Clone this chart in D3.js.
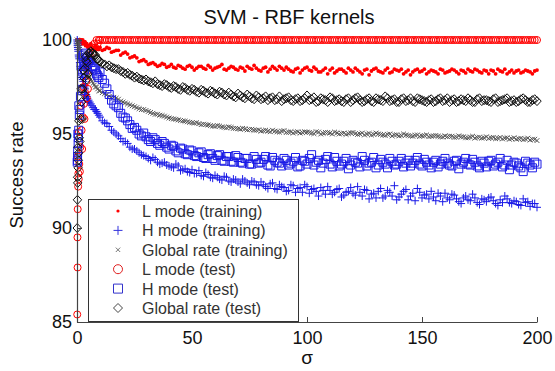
<!DOCTYPE html>
<html><head><meta charset="utf-8">
<script src="https://cdn.jsdelivr.net/npm/d3@7"></script>
<style>body{margin:0;background:#fff}svg{display:block;font-family:"Liberation Sans",Arial,sans-serif}</style>
</head><body><svg id="c" width="555" height="371"></svg>
<script>
// sampling set A
const sigma = [0.1,0.25,0.5,0.75,1,1.5,2,2.5,3,3.5,4,5,6,7,8,9,
10,12,14,16,18,20,22,24,26,28,30,32,34,36,38,40,42,44,46,48,50,52,54,56,58,60,62,64,66,68,70,72,74,76,78,80,82,84,86,88,90,92,94,96,98,
100,102,104,106,108,110,112,114,116,118,120,122,124,126,128,130,132,134,136,138,140,142,144,146,148,150,152,154,156,158,160,162,164,166,168,170,172,174,176,178,180,182,184,186,188,190,192,194,196,198,200];
// sampling set B
const sigmaB = [0.2,0.3,0.4,0.6,0.8,1.25,1.75,2.25,2.75,3.25,3.75,4.25,4.5,4.75,5.5,6.5,7.5,8.5,9.5,
11,13,15,17,19,21,23,25,27,29,31,33,35,37,39,41,43,45,47,49,51,53,55,57,59,61,63,65,67,69,71,73,75,77,79,81,83,85,87,89,91,93,95,97,99,
101,103,105,107,109,111,113,115,117,119,121,123,125,127,129,131,133,135,137,139,141,143,145,147,149,151,153,155,157,159,161,163,165,167,169,171,173,175,177,179,181,183,185,187,189,191,193,195,197,199];

const lTrain = [100,100,100,100,99.9,100,99.9,100,99.8,99.9,99.8,99.7,99.8,99.6,99.7,99.5,
99.6,99.5,99.55,99.4,99.45,99.3,99.25,99.1,99.05,98.9,98.85,98.75,98.7,98.65,98.7,98.6,98.55,98.65,98.5,98.6,98.55,98.5,98.6,98.45,98.55,98.5,98.6,98.45,98.5,98.55,98.4,98.5,98.6,98.45,98.5,98.35,98.55,98.45,98.5,98.6,98.4,98.45,98.3,98.5,98.4,
98.55,98.35,98.45,98.3,98.5,98.4,98.25,98.45,98.35,98.5,98.3,98.4,98.2,98.45,98.35,98.5,98.3,98.4,98.25,98.45,98.35,98.2,98.4,98.3,98.45,98.35,98.2,98.4,98.3,98.45,98.25,98.35,98.4,98.2,98.35,98.45,98.3,98.4,98.25,98.35,98.4,98.2,98.35,98.45,98.3,98.25,98.4,98.3,98.35,98.2,98.4];
const lTrainB = [100,100,100,99.9,100,99.9,100,99.8,99.9,99.9,99.7,99.8,99.7,99.6,99.7,99.6,99.5,99.6,99.5,
99.45,99.6,99.35,99.45,99.2,99.35,99.05,99.15,98.85,98.95,98.7,98.8,98.6,98.75,98.55,98.7,98.5,98.6,98.45,98.65,98.4,98.6,98.5,98.65,98.4,98.55,98.7,98.4,98.6,98.45,98.55,98.35,98.5,98.65,98.4,98.5,98.3,98.6,98.4,98.5,98.55,98.35,98.45,98.25,98.5,
98.4,98.55,98.3,98.4,98.2,98.5,98.35,98.45,98.25,98.4,98.5,98.3,98.4,98.15,98.45,98.35,98.25,98.5,98.3,98.4,98.45,98.3,98.15,98.4,98.3,98.45,98.3,98.35,98.2,98.4,98.3,98.45,98.3,98.4,98.25,98.35,98.45,98.3,98.4,98.2,98.35,98.45,98.3,98.2,98.4,98.35,98.25,98.4,98.3,98.35];

const hTrain = [100,99.8,99.5,99.2,99.0,98.6,98.2,97.9,97.6,97.4,97.1,96.8,96.6,96.4,96.3,96.1,
95.9,95.6,95.4,95.1,94.9,94.6,94.5,94.2,94.1,93.9,93.8,93.6,93.65,93.4,93.5,93.3,93.2,93.3,93.1,93.0,93.1,92.9,92.8,92.95,92.7,92.8,92.6,92.75,92.5,92.6,92.45,92.6,92.4,92.5,92.3,92.45,92.2,92.35,92.1,92.3,92.15,92.0,92.25,92.1,91.9,
92.2,92.05,91.95,92.15,91.8,92.0,91.9,92.1,91.75,91.95,91.85,92.2,91.7,92.0,91.8,91.6,92.1,91.7,91.9,92.25,91.65,91.95,91.5,91.85,92.1,91.6,91.8,91.95,91.45,91.7,91.85,91.5,91.75,91.4,91.6,91.5,91.8,91.35,91.55,91.4,91.65,91.3,91.5,91.7,91.35,91.45,91.25,91.55,91.4,91.3,91.1];
const hTrainB = [99.9,99.7,99.6,99.4,99.1,98.8,98.5,98.0,97.8,97.5,97.2,97.0,96.9,96.7,96.7,96.5,96.3,96.2,96.0,
95.7,95.55,95.2,95.0,94.75,94.6,94.3,94.2,94.0,93.85,93.7,93.75,93.5,93.45,93.35,93.25,93.4,93.05,93.15,92.95,92.9,93.05,92.75,92.85,92.65,92.7,92.55,92.7,92.45,92.55,92.35,92.5,92.3,92.45,92.25,92.3,92.1,92.4,92.05,92.2,91.95,92.3,91.9,92.15,92.3,
91.85,92.1,91.7,92.0,92.2,91.8,92.05,91.65,91.9,92.15,91.75,91.9,92.05,91.55,91.85,91.95,91.6,92.0,91.7,91.5,91.8,92.05,91.7,91.45,91.9,91.75,91.55,91.65,91.85,91.4,91.6,91.8,91.55,91.3,91.7,91.45,91.6,91.25,91.5,91.6,91.45,91.2,91.35,91.55,91.3,91.4,91.2,91.35,91.15,91.3];

const gTrain = [100,99.9,99.8,99.6,99.5,99.3,99.1,98.9,98.7,98.5,98.4,98.1,97.9,97.7,97.5,97.4,
97.3,97.15,97.0,96.95,96.85,96.7,96.6,96.5,96.4,96.3,96.25,96.15,96.05,96.0,95.95,95.85,95.8,95.75,95.7,95.65,95.6,95.6,95.5,95.5,95.45,95.4,95.42,95.35,95.38,95.3,95.28,95.3,95.22,95.25,95.2,95.15,95.2,95.12,95.15,95.1,95.18,95.1,95.05,95.12,95.08,
95.1,95.05,95.12,95.0,95.08,95.05,95.1,95.0,95.05,95.02,95.08,94.98,95.05,95.0,94.95,95.05,94.98,94.92,95.0,94.95,94.9,95.0,94.92,94.88,94.95,94.9,94.95,94.88,94.92,94.85,94.9,94.88,94.82,94.9,94.85,94.8,94.88,94.82,94.78,94.85,94.8,94.75,94.82,94.78,94.72,94.8,94.75,94.7,94.78,94.72,94.65];
const gTrainB = [99.9,99.9,99.8,99.7,99.6,99.4,99.2,99.0,98.8,98.6,98.5,98.3,98.2,98.1,98.0,97.8,97.6,97.5,97.3,
97.2,97.1,96.95,96.9,96.75,96.65,96.55,96.45,96.35,96.3,96.2,96.1,96.05,95.98,95.9,95.82,95.78,95.72,95.68,95.62,95.58,95.55,95.52,95.48,95.42,95.45,95.38,95.33,95.35,95.3,95.25,95.28,95.24,95.2,95.22,95.18,95.15,95.2,95.12,95.15,95.08,95.12,95.1,95.05,95.12,
95.08,95.02,95.1,95.04,95.08,95.0,95.06,95.03,94.98,95.06,95.02,95.0,94.95,95.03,94.98,95.0,94.95,94.98,94.9,94.96,94.92,94.95,94.9,94.93,94.87,94.92,94.86,94.9,94.88,94.84,94.86,94.88,94.83,94.86,94.8,94.84,94.78,94.83,94.8,94.76,94.82,94.77,94.74,94.8,94.75,94.72,94.77,94.73,94.68,94.72];

const lTest = [85.4,87.9,92.2,92.6,93.4,94.3,95.2,95.9,96.6,97.2,97.8,98.4,98.9,99.3,99.6,99.8,
100,100,100,100,100,100,100,100,100,100,100,100,100,100,100,100,100,100,100,100,100,100,100,100,100,100,100,100,100,100,100,100,100,100,100,100,100,100,100,100,100,100,100,100,100,
100,100,100,100,100,100,100,100,100,100,100,100,100,100,100,100,100,100,100,100,100,100,100,100,100,100,100,100,100,100,100,100,100,100,100,100,100,100,100,100,100,100,100,100,100,100,100,100,100,100,100];
const lTestB = [89.5,91.0,93.8,92.9,95.1,93.0,96.5,94.2,97.5,95.8,98.9,96.9,98.6,97.4,99.2,99.6,99.8,100,100,
100,100,100,100,100,100,100,100,100,100,100,100,100,100,100,100,100,100,100,100,100,100,100,100,100,100,100,100,100,100,100,100,100,100,100,100,100,100,100,100,100,100,100,100,100,
100,100,100,100,100,100,100,100,100,100,100,100,100,100,100,100,100,100,100,100,100,100,100,100,100,100,100,100,100,100,100,100,100,100,100,100,100,100,100,100,100,100,100,100,100,100,100,100,100,100];

const hTest = [93.5,93.8,94.5,95.2,96.0,97.0,97.8,98.3,98.6,98.8,99.0,98.9,98.8,98.6,98.4,98.1,
98.3,97.7,97.1,96.6,96.4,95.9,95.7,95.3,95.2,94.9,94.85,94.6,94.7,94.4,94.5,94.2,94.35,94.0,94.2,93.9,94.1,93.8,94.05,93.7,93.95,93.6,93.9,93.55,93.8,93.5,93.75,93.45,93.7,93.4,93.65,93.5,93.8,93.3,93.6,93.45,93.7,93.35,93.55,93.25,93.6,
93.4,93.9,93.5,93.2,93.65,93.4,93.75,93.3,93.55,93.15,93.6,93.45,93.8,93.3,93.5,93.2,93.65,93.4,93.7,93.35,93.55,93.25,93.6,93.45,93.75,93.3,93.5,93.2,93.6,93.4,93.7,93.35,93.55,93.15,93.5,93.4,93.65,93.3,93.55,93.25,93.6,93.4,93.7,93.35,93.1,93.5,93.3,93.0,93.45,93.2,93.4];
const hTestB = [93.6,94.1,95.0,94.8,96.5,96.3,98.6,97.3,99.2,98.4,99.3,98.7,99.1,98.8,98.9,98.6,98.5,98.2,98.0,
97.9,97.4,96.8,96.5,96.1,95.85,95.5,95.35,95.0,95.05,94.7,94.8,94.5,94.6,94.3,94.4,94.1,94.25,93.95,94.15,93.85,94.0,93.75,93.9,93.7,93.85,93.6,93.8,93.55,93.85,93.5,93.7,93.4,93.8,93.45,93.65,93.35,93.75,93.5,93.3,93.6,93.45,93.75,93.3,93.55,
93.7,93.35,93.6,93.45,93.8,93.25,93.55,93.4,93.7,93.35,93.5,93.25,93.6,93.45,93.75,93.35,93.5,93.2,93.55,93.4,93.7,93.45,93.3,93.6,93.4,93.65,93.35,93.5,93.25,93.55,93.45,93.3,93.6,93.4,93.7,93.35,93.5,93.2,93.45,93.55,93.3,93.5,93.25,93.6,93.35,93.45,93.2,93.55,93.35,93.5];

const gTest = [90.0,92.7,93.2,94.0,94.8,95.8,96.7,97.4,98.0,98.5,98.9,99.3,99.4,99.3,99.2,99.0,
98.85,98.7,98.65,98.5,98.45,98.3,98.25,98.1,98.05,97.9,97.9,97.75,97.8,97.6,97.65,97.5,97.55,97.4,97.5,97.35,97.4,97.25,97.35,97.2,97.3,97.15,97.25,97.1,97.2,97.0,97.15,96.95,97.1,96.9,97.05,96.85,97.0,96.9,96.8,97.0,96.85,96.95,96.75,96.9,96.8,
97.05,96.85,96.7,96.9,96.8,96.95,96.75,96.85,96.7,96.9,96.8,96.95,96.7,96.85,96.75,96.9,96.8,97.0,96.75,96.85,96.7,96.9,96.8,96.75,96.9,96.8,96.7,96.85,96.75,96.9,96.8,96.7,96.85,96.75,96.8,96.9,96.7,96.85,96.75,96.8,96.7,96.9,96.75,96.85,96.7,96.8,96.75,96.9,96.7,96.8,96.75];
const gTestB = [91.5,92.4,94.3,93.6,95.7,94.6,97.4,95.8,98.4,97.1,99.1,97.9,98.8,98.2,99.3,99.3,99.2,99.0,98.9,
98.75,98.6,98.55,98.45,98.35,98.2,98.15,98.0,97.95,97.85,97.8,97.7,97.65,97.55,97.6,97.45,97.5,97.35,97.45,97.3,97.35,97.2,97.3,97.15,97.25,97.1,97.2,97.05,97.1,96.95,97.05,96.9,97.0,96.85,96.95,96.9,96.8,96.95,96.85,96.75,96.9,96.8,96.85,96.75,96.9,
96.8,96.95,96.75,96.85,96.7,96.9,96.8,96.75,96.85,96.7,96.9,96.8,96.75,96.9,96.7,96.85,96.75,96.9,96.8,96.7,96.85,96.75,96.9,96.7,96.85,96.75,96.8,96.7,96.85,96.75,96.9,96.8,96.7,96.85,96.75,96.8,96.7,96.9,96.8,96.75,96.85,96.7,96.8,96.9,96.75,96.7,96.85,96.8,96.7,96.85];

const seriesNames = ["L mode (training)","H mode (training)","Global rate (training)","L mode (test)","H mode (test)","Global rate (test)"];
const xTicks = [0,50,100,150,200];
const yTicks = [85,90,95,100];

const svg = d3.select("#c");
const x = d3.scaleLinear().domain([0,200]).range([77,537]);
const y = d3.scaleLinear().domain([85,100]).range([322,40]);

const shapes = {
  dot: {d:"M-1.9,0A1.9,1.9 0 1,0 1.9,0A1.9,1.9 0 1,0 -1.9,0Z", fill:"#ff0000", stroke:"none", sw:0},
  plus: {d:"M-4,0H4M0,-4V4", fill:"none", stroke:"#1a1ae6", sw:1},
  cross: {d:"M-2.4,-2.4L2.4,2.4M-2.4,2.4L2.4,-2.4", fill:"none", stroke:"#555", sw:1},
  circle: {d:"M-3.5,0A3.5,3.5 0 1,0 3.5,0A3.5,3.5 0 1,0 -3.5,0Z", fill:"none", stroke:"#ff0000", sw:1},
  square: {d:"M-4,-4H4V4H-4Z", fill:"none", stroke:"#1a1ae6", sw:1},
  diamond: {d:"M0,-4.5L4.2,0L0,4.5L-4.2,0Z", fill:"none", stroke:"#111", sw:1}
};
const series = [
  {a:lTrain, b:lTrainB, shape:"dot"},
  {a:hTrain, b:hTrainB, shape:"plus"},
  {a:gTrain, b:gTrainB, shape:"cross"},
  {a:lTest, b:lTestB, shape:"circle"},
  {a:hTest, b:hTestB, shape:"square"},
  {a:gTest, b:gTestB, shape:"diamond"}
];

series.forEach(s => {
  const sh = shapes[s.shape];
  const pts = [];
  for (let i=0;i<Math.min(sigma.length,s.a.length);i++) pts.push([sigma[i],s.a[i]]);
  for (let i=0;i<Math.min(sigmaB.length,s.b.length);i++) pts.push([sigmaB[i],s.b[i]]);
  pts.sort((p,q)=>p[0]-q[0]);
  svg.append("g").selectAll("path").data(pts).join("path")
    .attr("transform",p=>`translate(${x(p[0])},${y(p[1])})`)
    .attr("d",sh.d).attr("fill",sh.fill).attr("stroke",sh.stroke).attr("stroke-width",sh.sw);
});

// axes
const ax = svg.append("g").attr("transform","translate(0,322)")
  .call(d3.axisBottom(x).tickValues(xTicks).tickSizeInner(-5).tickSizeOuter(0).tickPadding(9));
const ay = svg.append("g").attr("transform","translate(77,0)")
  .call(d3.axisLeft(y).tickValues(yTicks).tickSizeInner(-5).tickSizeOuter(0).tickPadding(5));
[ax,ay].forEach(a=>{
  a.select(".domain").attr("stroke","#444").attr("stroke-width",1.2);
  a.selectAll(".tick line").attr("stroke","#444");
  a.selectAll("text").attr("font-size",18).attr("fill","#111").attr("font-family","Liberation Sans, Arial, sans-serif");
});

// legend
const lg = svg.append("g");
lg.append("rect").attr("x",88.5).attr("y",199.5).attr("width",210).attr("height",122)
  .attr("fill","#fff").attr("stroke","#333").attr("stroke-width",1);
const legShapes = [
  {d:"M-1.6,0A1.6,1.6 0 1,0 1.6,0A1.6,1.6 0 1,0 -1.6,0Z", fill:"#ff0000", stroke:"none"},
  {d:"M-4.5,0H4.5M0,-4.5V4.5", fill:"none", stroke:"#3333dd"},
  {d:"M-2.2,-2.2L2.2,2.2M-2.2,2.2L2.2,-2.2", fill:"none", stroke:"#777"},
  {d:"M-4.5,0A4.5,4.5 0 1,0 4.5,0A4.5,4.5 0 1,0 -4.5,0Z", fill:"none", stroke:"#e02020"},
  {d:"M-4.5,-4.5H4.5V4.5H-4.5Z", fill:"none", stroke:"#3333cc"},
  {d:"M0,-4.5L4.5,0L0,4.5L-4.5,0Z", fill:"none", stroke:"#444"}
];
seriesNames.forEach((n,i)=>{
  const yy = 211 + i*19.4;
  lg.append("path").attr("transform",`translate(118,${yy})`).attr("d",legShapes[i].d)
    .attr("fill",legShapes[i].fill).attr("stroke",legShapes[i].stroke).attr("stroke-width",1);
  lg.append("text").attr("x",142).attr("y",yy+6).attr("font-size",16).attr("fill","#333").text(n);
});

// titles
svg.append("text").attr("x",289).attr("y",24).attr("text-anchor","middle").attr("font-size",20).attr("fill","#111").text("SVM - RBF kernels");
svg.append("text").attr("transform","translate(23,175) rotate(-90)").attr("text-anchor","middle").attr("font-size",18.5).attr("fill","#111").text("Success rate");
svg.append("text").attr("x",307).attr("y",364).attr("text-anchor","middle").attr("font-size",19).attr("fill","#111").text("σ");
</script></body></html>
